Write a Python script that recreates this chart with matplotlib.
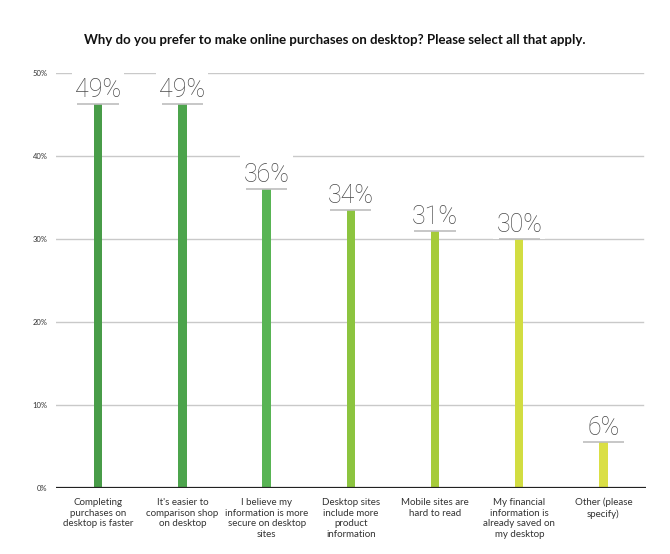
import matplotlib.pyplot as plt

# Data
categories = [
    "Completing\npurchases on\ndesktop is faster",
    "It's easier to\ncomparison shop\non desktop",
    "I believe my\ninformation is more\nsecure on desktop\nsites",
    "Desktop sites\ninclude more\nproduct\ninformation",
    "Mobile sites are\nhard to read",
    "My financial\ninformation is\nalready saved on\nmy desktop",
    "Other (please\nspecify)",
]
value_labels = ["49%", "49%", "36%", "34%", "31%", "30%", "6%"]
# bar heights as drawn in the picture (the 49% bars stop short of their label)
bar_heights = [46.3, 46.3, 36.0, 33.5, 31.0, 30.0, 5.5]
bar_colors = ["#489c48", "#4ca44c", "#58b454", "#8cc43f", "#a6cb3a", "#d2dd41", "#dadf45"]
y_ticks = [0, 10, 20, 30, 40, 50]
title = "Why do you prefer to make online purchases on desktop? Please select all that apply."

plt.rcParams['font.family'] = ['Lato', 'DejaVu Sans']

fig = plt.figure(figsize=(6.7, 5.54), dpi=100)
ax = fig.add_axes([0.0836, 0.119, 0.88, 0.749])

x = list(range(len(categories)))

# gridlines
for t in y_ticks[1:]:
    ax.axhline(t, xmin=0, xmax=0.995, color="#c9c9c9", lw=1, zorder=0)
ax.axhline(0, color="#222222", lw=1.6, zorder=5)

# white boxes behind the value labels hide the gridlines there
ax.bar(x, [4.2] * len(x), bottom=bar_heights, width=0.62, color="white", zorder=1)
ax.bar(x, bar_heights, width=0.1, color=bar_colors, zorder=3)

for i, (h, lab) in enumerate(zip(bar_heights, value_labels)):
    ax.annotate(lab, xy=(i, h), xytext=(0, 1.5), textcoords="offset points",
                ha="center", va="bottom", fontsize=18, family=["Roboto", "DejaVu Sans"],
                fontweight="light", color="#4a4a4a", zorder=2)
    ax.hlines(h, i - 0.245, i + 0.245, color="#bdbdbd", lw=1.2, zorder=4)

ax.set_xlim(-0.5, len(categories) - 0.5)
ax.set_ylim(0, 50)
ax.set_yticks(y_ticks)
ax.set_yticklabels([f"{t}%" for t in y_ticks], fontsize=5.5, color="#333333")
ax.set_xticks(x)
ax.set_xticklabels(categories, fontsize=7, color="#333333", linespacing=1.25)
ax.tick_params(axis="both", length=0)
ax.tick_params(axis="y", pad=6)
ax.tick_params(axis="x", pad=7)
for s in ax.spines.values():
    s.set_visible(False)

fig.text(0.5, 0.927, title, ha="center", va="center", fontsize=9.5,
         fontweight="bold", color="#111111")

fig.savefig("out.png", dpi=100)
